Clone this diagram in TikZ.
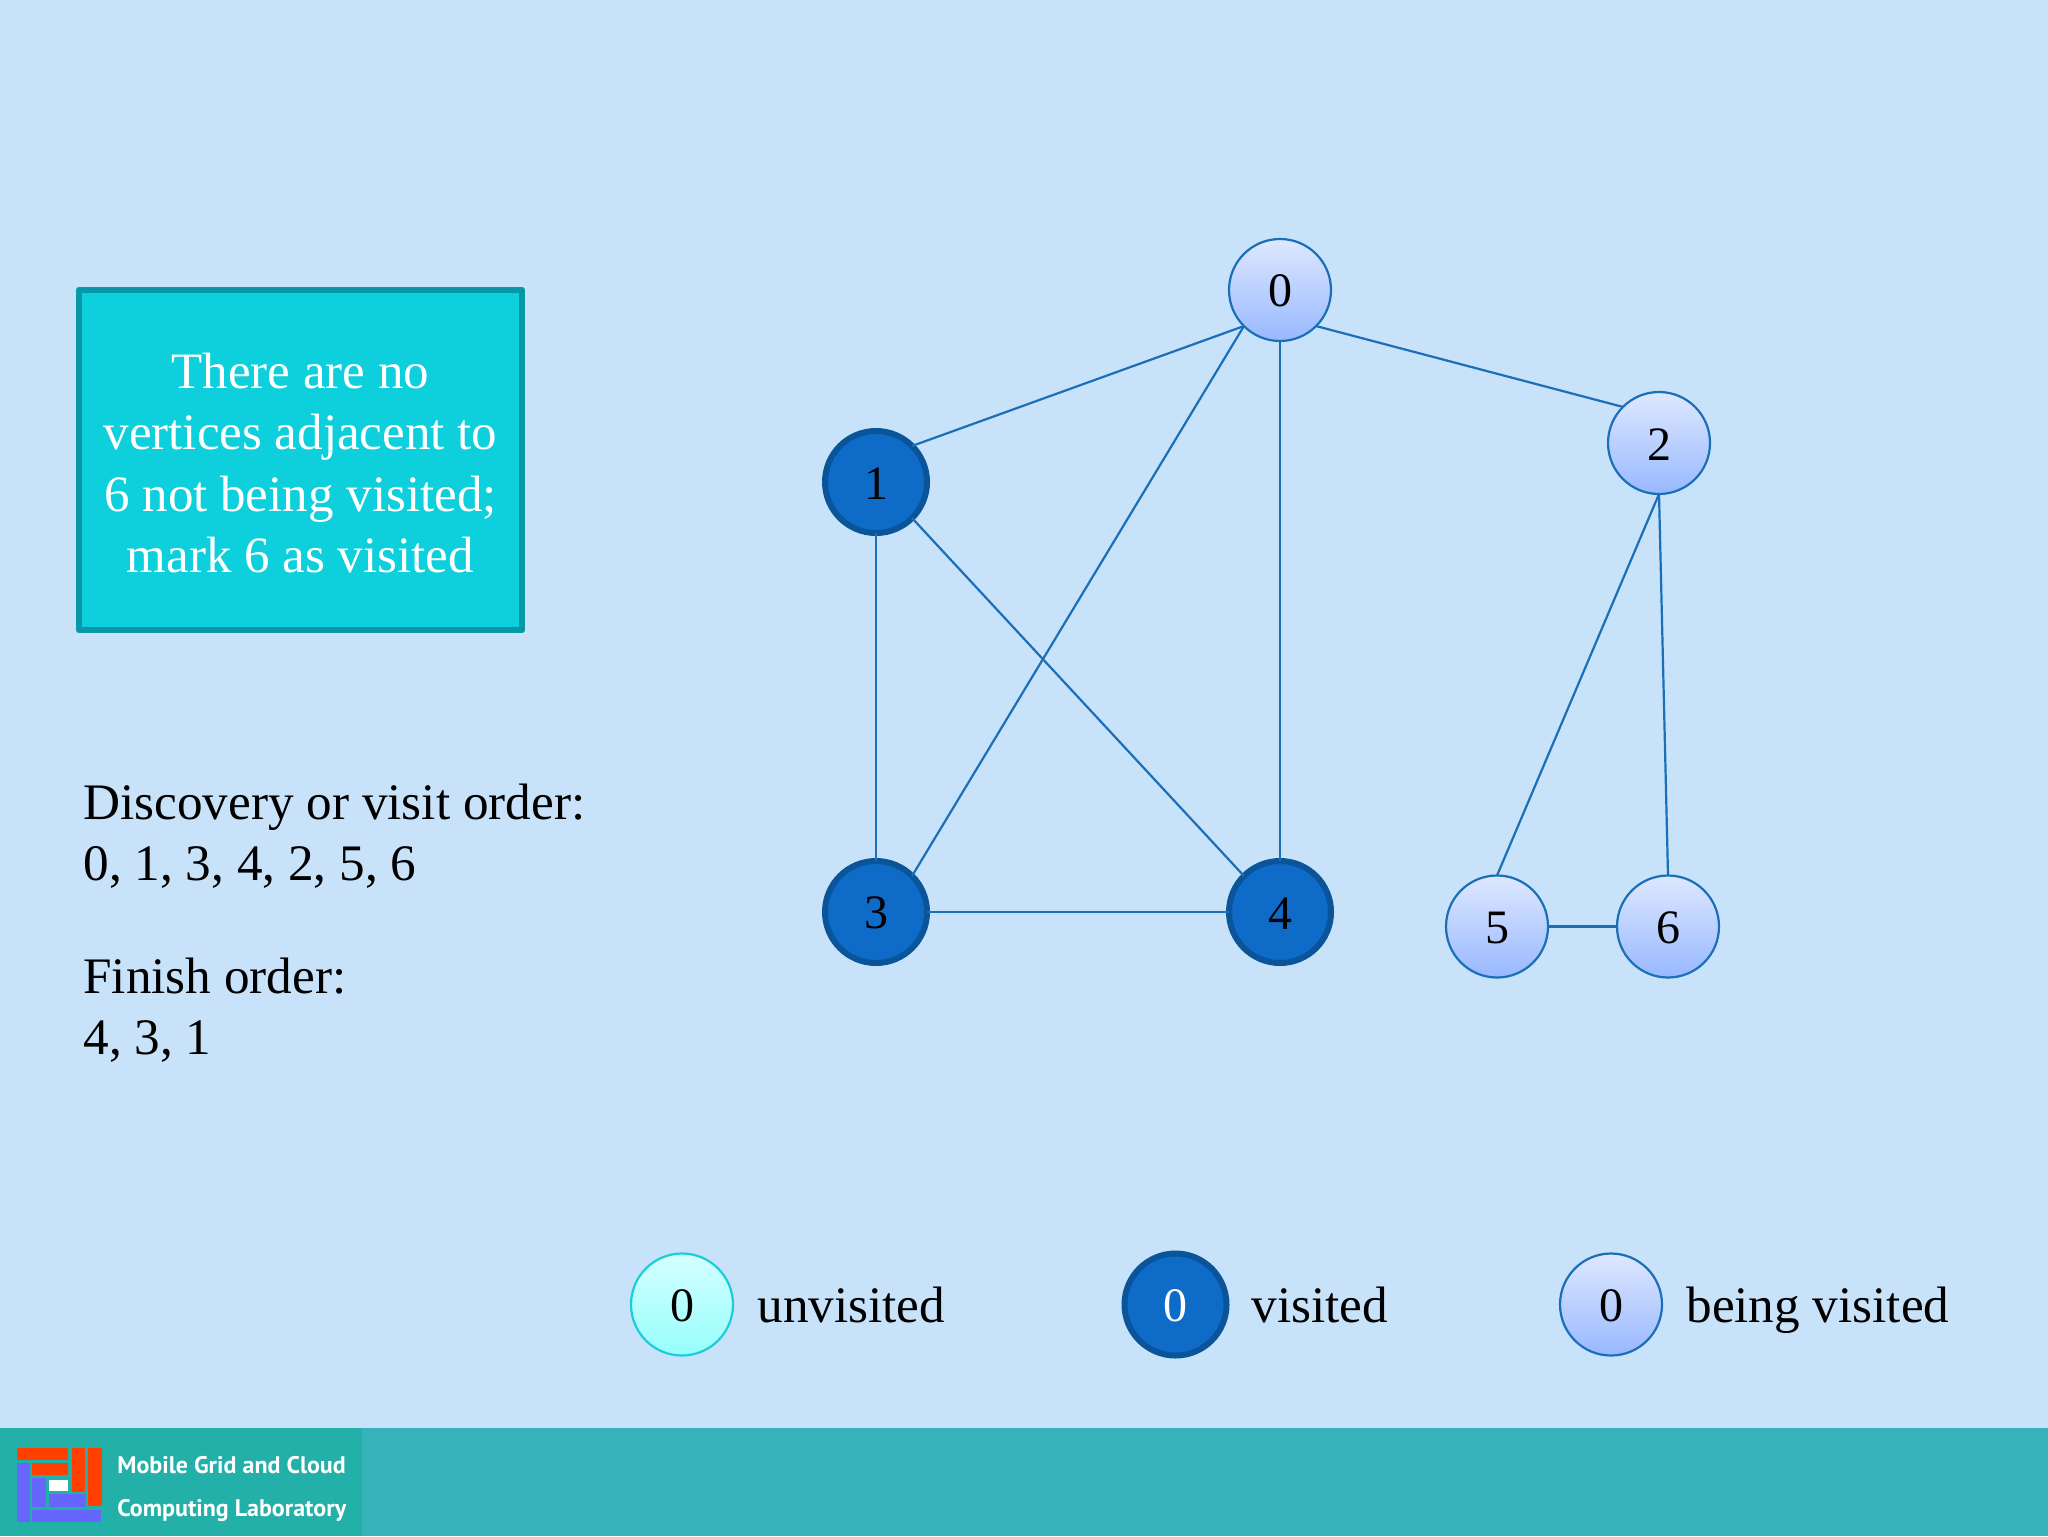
\documentclass[tikz,border=0pt]{standalone}
\usepackage{fontspec}
\setmainfont{Liberation Serif}
\newfontfamily\logofont{PT Sans}
\definecolor{bgc}{HTML}{C8E2FA}
\definecolor{edgec}{HTML}{1A6FB8}
\definecolor{visfill}{HTML}{0F6BC8}
\definecolor{visline}{HTML}{0A5599}
\definecolor{boxfill}{HTML}{0ED0DC}
\definecolor{boxline}{HTML}{0897A6}
\definecolor{banddark}{HTML}{23B0A8}
\definecolor{bandlight}{HTML}{36B3B9}
\definecolor{logored}{HTML}{FF4000}
\definecolor{logoblue}{HTML}{6666FF}
\tikzset{
  x=0.5pt,y=-0.5pt,
  vert/.style={circle,inner sep=0pt,outer sep=0pt,minimum size=51pt,font=\fontsize{24}{26}\selectfont,text=black,text height=17pt},
  active/.style={vert,draw=edgec,line width=1.1pt,top color={rgb,255:red,222;green,232;blue,255},bottom color={rgb,255:red,152;green,184;blue,255}},
  done/.style={vert,draw=visline,line width=3pt,fill=visfill},
  fresh/.style={vert,draw={rgb,255:red,28;green,205;blue,216},line width=1.1pt,top color={rgb,255:red,212;green,255;blue,255},bottom color={rgb,255:red,150;green,255;blue,252}},
  edgeline/.style={draw=edgec,line width=1.1pt},
  plain/.style={anchor=base west,inner sep=0pt,font=\fontsize{25.6}{30}\selectfont,text=black},
  logotext/.style={anchor=base west,inner sep=0pt,font=\logofont\bfseries\fontsize{12}{14}\selectfont,text=white},
}
\begin{document}
\begin{tikzpicture}
\useasboundingbox (0,0) rectangle (2048,1536);
\fill[bgc] (0,0) rectangle (2048,1536);
% footer
\fill[bandlight] (0,1428) rectangle (2048,1536);
\fill[banddark] (0,1428) rectangle (362,1536);
\fill[logored] (17,1448) rectangle (68,1460);
\fill[logored] (32,1463) rectangle (68,1475);
\fill[logored] (72,1448) rectangle (85,1492);
\fill[logored] (88,1448) rectangle (102,1506);
\fill[logoblue] (17,1463) rectangle (30,1522);
\fill[logoblue] (32,1478) rectangle (46,1507);
\fill[white] (49,1480) rectangle (68,1491);
\fill[logoblue] (49,1494) rectangle (86,1507);
\fill[logoblue] (32,1510) rectangle (101,1522);
\node[logotext] (lg1) at (117,1473) {Mobile Grid and Cloud};
\node[logotext] (lg2) at (117,1516) {Computing Laboratory};
% message box
\node[draw=boxline,fill=boxfill,line width=3pt,line join=round,inner sep=0pt,outer sep=0pt,minimum width=221.5pt,minimum height=170pt] (msg) at (300.5,460) {};
\node[inner sep=0pt,align=center,text=white,font=\fontsize{25.5}{30.7}\selectfont] (msgtext) at (300.5,463) {There are no\\vertices adjacent to\\6 not being visited;\\mark 6 as visited};
% text
\node[plain] (t1) at (83,819) {Discovery or visit order:};
\node[plain] (t2) at (83,880) {0, 1, 3, 4, 2, 5, 6};
\node[plain] (t3) at (83,993) {Finish order:};
\node[plain] (t4) at (83,1054) {4, 3, 1};
% graph
\node[active] (n0) at (1280,290) {0};
\node[done] (n1) at (876,482) {1};
\node[active] (n2) at (1659,443) {2};
\node[done] (n3) at (876,912) {3};
\node[done] (n4) at (1280,912) {4};
\node[active] (n5) at (1497,926.5) {5};
\node[active] (n6) at (1668,926.5) {6};
\draw[edgeline] (n0.south west) -- (n1.north east);
\draw[edgeline] (n0.south west) -- (n3.north east);
\draw[edgeline] (n0.south) -- (n4.north);
\draw[edgeline] (n0.south east) -- (n2.north west);
\draw[edgeline] (n1.south) -- (n3.north);
\draw[edgeline] (n1.south east) -- (n4.north west);
\draw[edgeline] (n3.east) -- (n4.west);
\draw[edgeline] (n2.south) -- (n5.north);
\draw[edgeline] (n2.south) -- (n6.north);
\draw[edgeline] (n5.east) -- (n6.west);
% legend
\node[fresh] (l1) at (682,1304.5) {0};
\node[plain] (l1t) at (757,1322) {unvisited};
\node[done,text=white] (l2) at (1175.5,1304.5) {0};
\node[plain] (l2t) at (1251,1322) {visited};
\node[active] (l3) at (1611,1304.5) {0};
\node[plain] (l3t) at (1686,1322) {being visited};
\end{tikzpicture}
\end{document}
